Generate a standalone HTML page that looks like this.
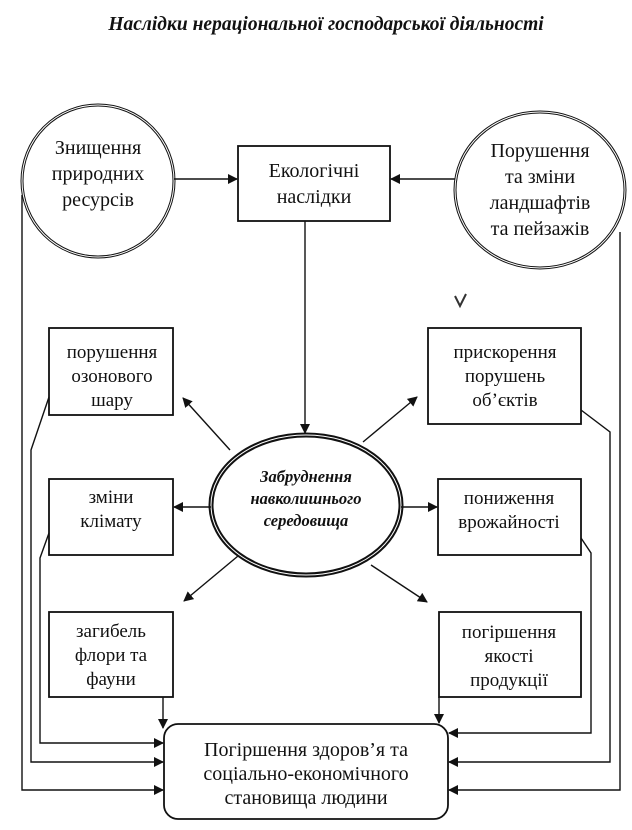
<!DOCTYPE html>
<html><head><meta charset="utf-8"><style>
html,body{margin:0;padding:0;background:#fff;}
svg{display:block;}
text{font-family:"Liberation Serif",serif;fill:#111;}
</style></head><body>
<svg width="632" height="830" viewBox="0 0 632 830" xmlns="http://www.w3.org/2000/svg">
<defs>
<marker id="a" markerWidth="10" markerHeight="10" refX="9" refY="5" orient="auto" markerUnits="userSpaceOnUse">
<path d="M0,0 L10,5 L0,10 z" fill="#111"/></marker>
</defs>
<text x="326" y="30" text-anchor="middle" font-size="19.5" font-weight="bold" font-style="italic">Наслідки нераціональної господарської діяльності</text>

<g stroke="#111" fill="none" stroke-width="1.4">
<ellipse cx="98" cy="181" rx="76" ry="76" stroke-width="3"/>
<ellipse cx="98" cy="181" rx="76" ry="76" stroke="#fff" stroke-width="1"/>
<ellipse cx="540" cy="190" rx="85" ry="78" stroke-width="3"/>
<ellipse cx="540" cy="190" rx="85" ry="78" stroke="#fff" stroke-width="1"/>
<rect x="238" y="146" width="152" height="75" stroke-width="1.8"/>
<rect x="49" y="328" width="124" height="87" stroke-width="1.8"/>
<rect x="428" y="328" width="153" height="96" stroke-width="1.8"/>
<rect x="49" y="479" width="124" height="76" stroke-width="1.8"/>
<rect x="438" y="479" width="143" height="76" stroke-width="1.8"/>
<rect x="49" y="612" width="124" height="85" stroke-width="1.8"/>
<rect x="439" y="612" width="142" height="85" stroke-width="1.8"/>
<rect x="164" y="724" width="284" height="95" rx="14" stroke-width="1.8"/>
<ellipse cx="306" cy="505" rx="95" ry="70" stroke-width="5"/>
<ellipse cx="306" cy="505" rx="95" ry="70" stroke="#fff" stroke-width="1"/>

<line x1="174" y1="179" x2="237" y2="179" marker-end="url(#a)"/>
<line x1="455" y1="179" x2="391" y2="179" marker-end="url(#a)"/>
<line x1="305" y1="221" x2="305" y2="433" marker-end="url(#a)"/>
<line x1="230" y1="450" x2="183" y2="398" marker-end="url(#a)"/>
<line x1="363" y1="442" x2="417" y2="397" marker-end="url(#a)"/>
<line x1="211" y1="507" x2="174" y2="507" marker-end="url(#a)"/>
<line x1="401" y1="507" x2="437" y2="507" marker-end="url(#a)"/>
<line x1="238" y1="556" x2="184" y2="601" marker-end="url(#a)"/>
<line x1="371" y1="565" x2="427" y2="602" marker-end="url(#a)"/>
<polyline points="163,697 163,728" marker-end="url(#a)"/>
<polyline points="49,533 40,558 40,743 163,743" marker-end="url(#a)"/>
<polyline points="49,397 31,450 31,762 163,762" marker-end="url(#a)"/>
<polyline points="22,195 22,790 163,790" marker-end="url(#a)"/>
<polyline points="439,697 439,723" marker-end="url(#a)"/>
<polyline points="581,538 591,553 591,733 449,733" marker-end="url(#a)"/>
<polyline points="581,410 610,432 610,762 449,762" marker-end="url(#a)"/>
<polyline points="620,232 620,790 449,790" marker-end="url(#a)"/>
</g>

<g font-size="20" text-anchor="middle">
<text x="98" y="154">Знищення</text>
<text x="98" y="180">природних</text>
<text x="98" y="206">ресурсів</text>
<text x="540" y="157">Порушення</text>
<text x="540" y="183">та зміни</text>
<text x="540" y="209">ландшафтів</text>
<text x="540" y="235">та пейзажів</text>
<text x="314" y="177">Екологічні</text>
<text x="314" y="203">наслідки</text>
</g>
<g font-size="19" text-anchor="middle">
<text x="112" y="358">порушення</text>
<text x="112" y="382">озонового</text>
<text x="112" y="406">шару</text>
<text x="505" y="358">прискорення</text>
<text x="505" y="382">порушень</text>
<text x="505" y="406">об’єктів</text>
<text x="111" y="503">зміни</text>
<text x="111" y="527">клімату</text>
<text x="509" y="504">пониження</text>
<text x="509" y="528">врожайності</text>
<text x="111" y="637">загибель</text>
<text x="111" y="661">флори та</text>
<text x="111" y="685">фауни</text>
<text x="509" y="638">погіршення</text>
<text x="509" y="662">якості</text>
<text x="509" y="686">продукції</text>
</g>
<g font-size="20" text-anchor="middle">
<text x="306" y="756">Погіршення здоров’я та</text>
<text x="306" y="780">соціально-економічного</text>
<text x="306" y="804">становища людини</text>
</g>
<g font-size="16.5" font-weight="bold" font-style="italic" text-anchor="middle">
<text x="306" y="482">Забруднення</text>
<text x="306" y="504">навколишнього</text>
<text x="306" y="526">середовища</text>
</g>
<path d="M455,296 L460,306 L466,294" stroke="#333" stroke-width="2" fill="none"/>
</svg>
</body></html>
